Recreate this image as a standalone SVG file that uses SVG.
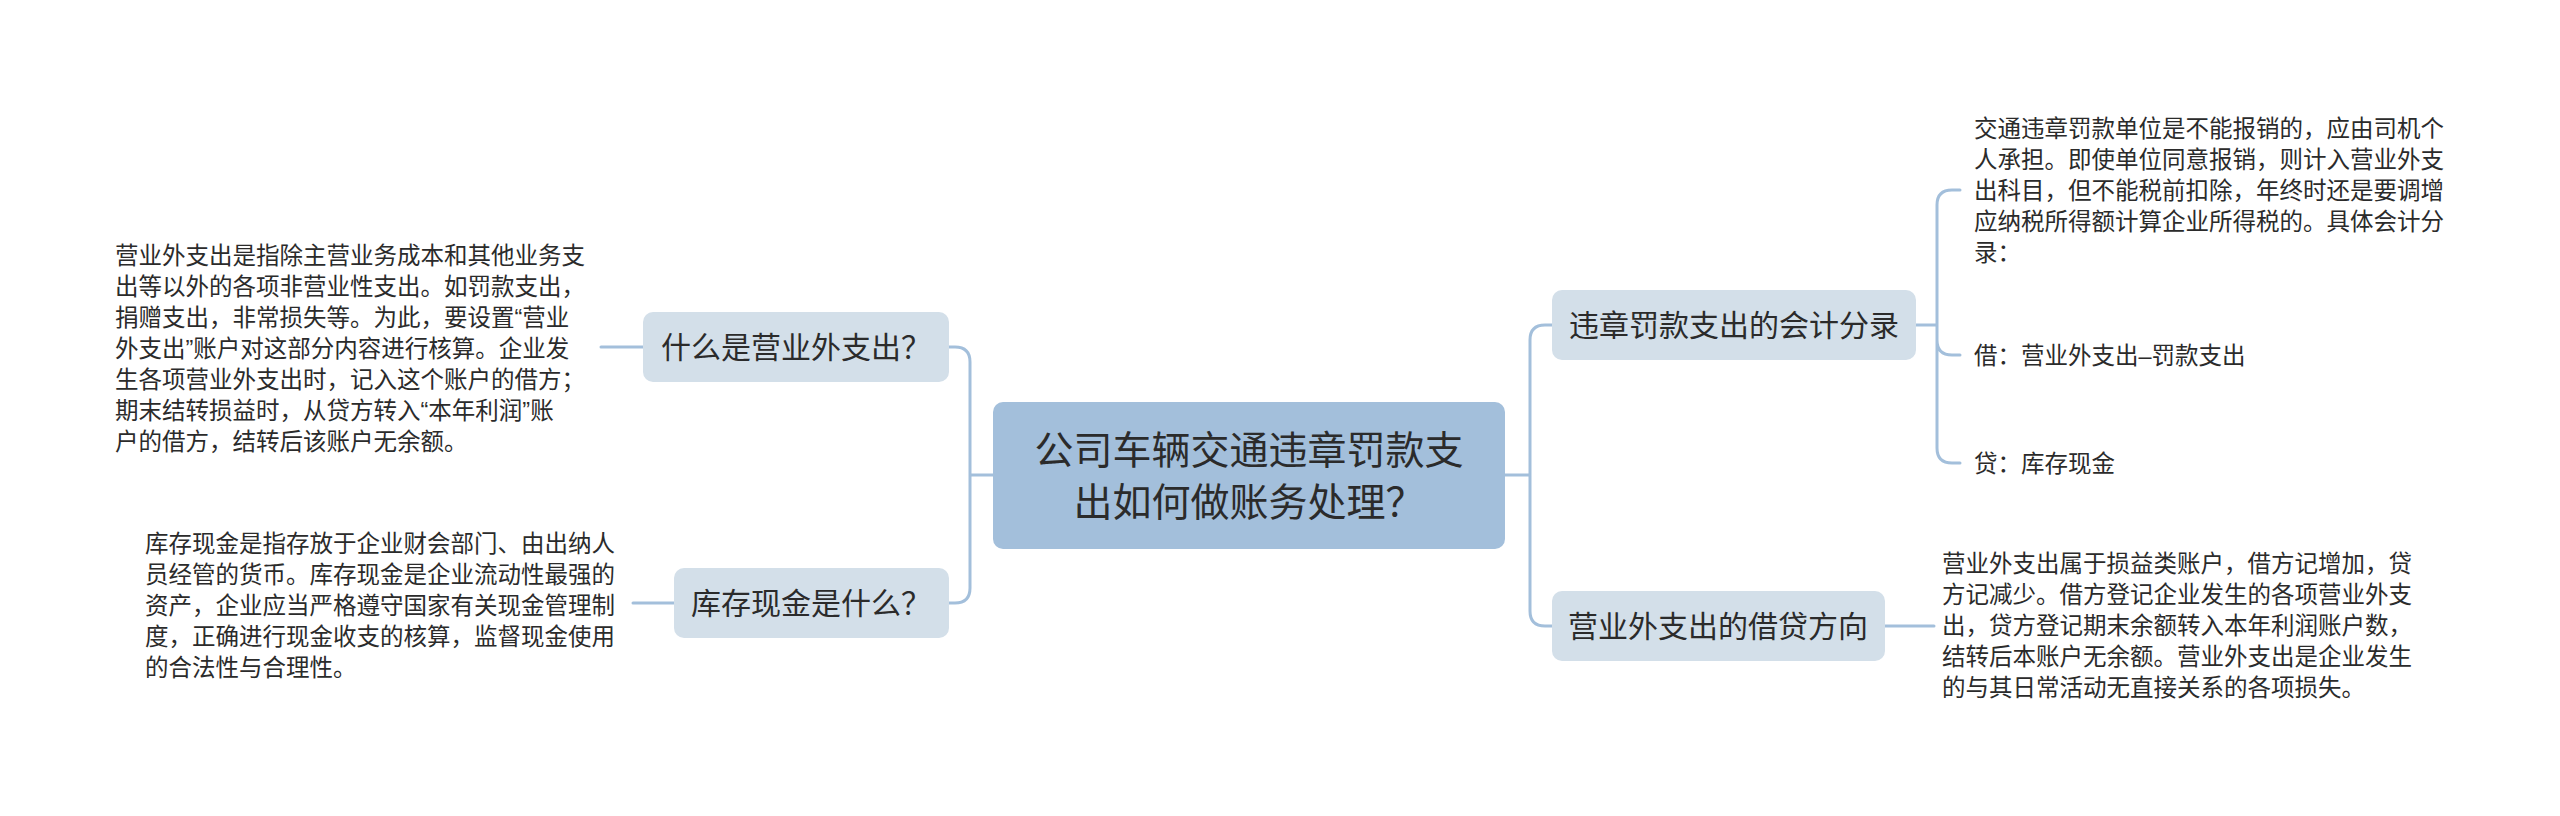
<svg xmlns="http://www.w3.org/2000/svg" width="2560" height="816" viewBox="0 0 2560 816">
<style>
text{font-family:"Liberation Sans","Noto Sans CJK SC",sans-serif;fill:#2b2b2b}
.note{font-size:23.5px}
.sub{font-size:30px;text-anchor:middle}
.root{font-size:39px;text-anchor:middle}
.box{fill:#d3dfe9}
.rootbox{fill:#a3bfdb}
.conn{fill:none;stroke:#a3bfdb;stroke-width:3;stroke-linecap:round}
</style>
<rect width="2560" height="816" fill="#ffffff"/>
<g id="connectors">
<path class="conn" d="M993,475 H970 M949,347 H955 Q970,347 970,362 V588 Q970,603 955,603 H949"/>
<path class="conn" d="M643,347 H601"/>
<path class="conn" d="M674,603 H633"/>
<path class="conn" d="M1505,475 H1530 M1552,325 H1545 Q1530,325 1530,340 V611 Q1530,626 1545,626 H1552"/>
<path class="conn" d="M1916,325 H1937 M1960,190 H1952 Q1937,190 1937,205 V448 Q1937,463 1952,463 H1960 M1937,340 Q1937,355 1952,355 H1960"/>
<path class="conn" d="M1885,626 H1934"/>
</g>
<g id="root">
<rect class="rootbox" x="993" y="402" width="512" height="147" rx="10"/>
<text class="root" x="1249" y="464">公司车辆交通违章罚款支</text>
<text class="root" x="1249" y="516">出如何做账务处理？</text>
</g>
<g id="n-what-is">
<rect class="box" x="643" y="312" width="306" height="70" rx="10"/>
<text class="sub" x="796" y="358">什么是营业外支出？</text>
</g>
<g id="n-what-is-note">
<text class="note" x="115" y="264">营业外支出是指除主营业务成本和其他业务支</text>
<text class="note" x="115" y="295">出等以外的各项非营业性支出。如罚款支出，</text>
<text class="note" x="115" y="326">捐赠支出，非常损失等。为此，要设置“营业</text>
<text class="note" x="115" y="357">外支出”账户对这部分内容进行核算。企业发</text>
<text class="note" x="115" y="388">生各项营业外支出时，记入这个账户的借方；</text>
<text class="note" x="115" y="419">期末结转损益时，从贷方转入“本年利润”账</text>
<text class="note" x="115" y="450">户的借方，结转后该账户无余额。</text>
</g>
<g id="n-cash">
<rect class="box" x="674" y="568" width="275" height="70" rx="10"/>
<text class="sub" x="811" y="614">库存现金是什么？</text>
</g>
<g id="n-cash-note">
<text class="note" x="145" y="552">库存现金是指存放于企业财会部门、由出纳人</text>
<text class="note" x="145" y="583">员经管的货币。库存现金是企业流动性最强的</text>
<text class="note" x="145" y="614">资产，企业应当严格遵守国家有关现金管理制</text>
<text class="note" x="145" y="645">度，正确进行现金收支的核算，监督现金使用</text>
<text class="note" x="145" y="676">的合法性与合理性。</text>
</g>
<g id="n-entry">
<rect class="box" x="1552" y="290" width="364" height="70" rx="10"/>
<text class="sub" x="1734" y="336">违章罚款支出的会计分录</text>
</g>
<g id="n-entry-note">
<text class="note" x="1974" y="137">交通违章罚款单位是不能报销的，应由司机个</text>
<text class="note" x="1974" y="168">人承担。即使单位同意报销，则计入营业外支</text>
<text class="note" x="1974" y="199">出科目，但不能税前扣除，年终时还是要调增</text>
<text class="note" x="1974" y="230">应纳税所得额计算企业所得税的。具体会计分</text>
<text class="note" x="1974" y="261">录：</text>
</g>
<g id="n-debit">
<text class="note" x="1974" y="364">借：营业外支出–罚款支出</text>
</g>
<g id="n-credit">
<text class="note" x="1974" y="472">贷：库存现金</text>
</g>
<g id="n-direction">
<rect class="box" x="1552" y="591" width="333" height="70" rx="10"/>
<text class="sub" x="1718" y="637">营业外支出的借贷方向</text>
</g>
<g id="n-direction-note">
<text class="note" x="1942" y="572">营业外支出属于损益类账户，借方记增加，贷</text>
<text class="note" x="1942" y="603">方记减少。借方登记企业发生的各项营业外支</text>
<text class="note" x="1942" y="634">出，贷方登记期末余额转入本年利润账户数，</text>
<text class="note" x="1942" y="665">结转后本账户无余额。营业外支出是企业发生</text>
<text class="note" x="1942" y="696">的与其日常活动无直接关系的各项损失。</text>
</g>
</svg>
